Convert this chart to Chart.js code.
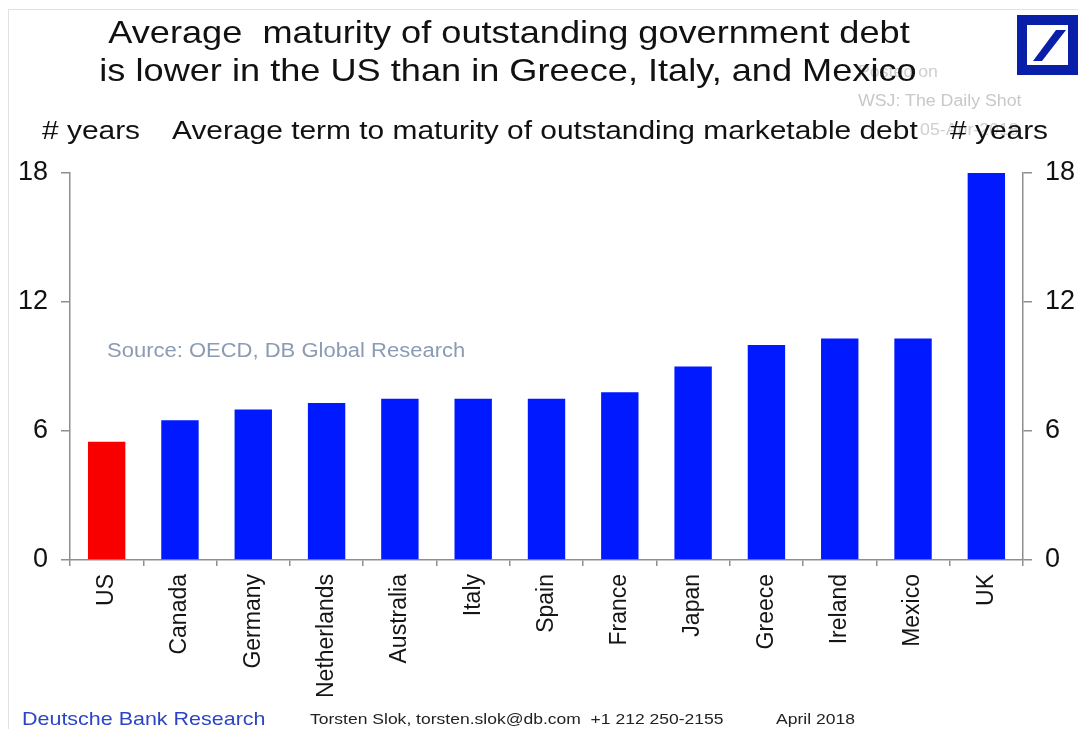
<!DOCTYPE html>
<html>
<head>
<meta charset="utf-8">
<script src="https://cdn.jsdelivr.net/npm/chart.js@4.4.1/dist/chart.umd.min.js"></script>
<style>
  html, body { margin: 0; padding: 0; background: #fff; }
  #wrap { position: relative; width: 1078px; height: 729px; overflow: hidden; font-family: "Liberation Sans", Arial, sans-serif; }
  #c { position: absolute; left: 0; top: 0; }
  .t { position: absolute; white-space: pre; line-height: 1; transform-origin: left top; }
  .tc { position: absolute; white-space: pre; line-height: 1; text-align: center; transform-origin: center top; }
  #frame { position: absolute; left: 8px; top: 9px; width: 1200px; height: 900px; border: 1.5px solid #e2e2e2; }
</style>
</head>
<body>
<div id="wrap">
  <div id="frame"></div>
  <canvas id="c" width="1078" height="729"></canvas>
  <!-- watermark -->
  <div class="t" style="left:858px; top:64px; font-size:16px; color:#cfcfcf; transform:scaleX(1.11)">Posted on</div>
  <div class="t" style="left:858px; top:93px; font-size:16px; color:#c8c8c8; transform:scaleX(1.11)">WSJ: The Daily Shot</div>
  <div class="t" style="left:920px; top:122px; font-size:16px; color:#cfcfcf; transform:scaleX(1.11)">05-Apr-2018</div>
  <!-- title -->
  <div class="tc" style="left:9px; width:1000px; top:16px; font-size:32px; color:#111; transform:scaleX(1.13)">Average  maturity of outstanding government debt</div>
  <div class="tc" style="left:8px; width:1000px; top:54px; font-size:32px; color:#111; transform:scaleX(1.13)">is lower in the US than in Greece, Italy, and Mexico</div>
  <!-- subtitle / axis titles -->
  <div class="t" style="left:42px; top:117px; font-size:26px; color:#111; transform:scaleX(1.15)"># years</div>
  <div class="t" style="left:172px; top:117px; font-size:26px; color:#111; transform:scaleX(1.15)">Average term to maturity of outstanding marketable debt</div>
  <div class="t" style="left:950px; top:117px; font-size:26px; color:#111; transform:scaleX(1.15)"># years</div>
  <!-- source -->
  <div class="t" style="left:107px; top:340px; font-size:20px; color:#8b9bb4; transform:scaleX(1.1)">Source: OECD, DB Global Research</div>
  <!-- footer -->
  <div class="t" style="left:22px; top:709px; font-size:19px; color:#2b45c6; transform:scaleX(1.13)">Deutsche Bank Research</div>
  <div class="t" style="left:310px; top:711px; font-size:15.5px; color:#222; transform:scaleX(1.13)">Torsten Slok, torsten.slok@db.com  +1 212 250-2155</div>
  <div class="t" style="left:776px; top:711px; font-size:15.5px; color:#222; transform:scaleX(1.13)">April 2018</div>
  <!-- logo -->
  <svg style="position:absolute; left:1017px; top:15px;" width="61" height="61" viewBox="0 0 61 61">
    <rect x="5" y="5" width="51" height="50" fill="none" stroke="#0a1fa8" stroke-width="10"/>
    <polygon points="16,46 25,46 49,15 39,15" fill="#0a1fa8"/>
  </svg>
</div>
<script>
// ---- data ----
const categories = ['US', 'Canada', 'Germany', 'Netherlands', 'Australia', 'Italy', 'Spain', 'France', 'Japan', 'Greece', 'Ireland', 'Mexico', 'UK'];
const avgMaturityYears = [5.5, 6.5, 7.0, 7.3, 7.5, 7.5, 7.5, 7.8, 9.0, 10.0, 10.3, 10.3, 18.0];
const yTickValues = [0, 6, 12, 18];
const highlighted = 'US';

const RED = '#f80000';
const BLUE = '#0019ff';
const AXIS = '#8e8e8e';
const FONT = '"Liberation Sans", Arial, sans-serif';

const yAxisCommon = {
  min: 0, max: 18,
  grid: { drawOnChartArea: false, drawTicks: true, tickLength: 9, color: AXIS, lineWidth: 1.5 },
  border: { display: true, color: AXIS, width: 1.5 },
  afterBuildTicks: (s) => { s.ticks = yTickValues.map(v => ({ value: v })); },
  ticks: { font: { family: FONT, size: 27 }, color: '#111', padding: 13 }
};

new Chart(document.getElementById('c'), {
  type: 'bar',
  data: {
    labels: categories,
    datasets: [{
      data: avgMaturityYears,
      backgroundColor: (ctx) => categories[ctx.dataIndex] === highlighted ? RED : BLUE,
      borderWidth: 0,
      categoryPercentage: 1.0,
      barPercentage: 0.51
    }]
  },
  options: {
    responsive: false,
    animation: false,
    devicePixelRatio: 1,
    layout: { padding: { top: 173, left: 0, right: 0, bottom: 0 } },
    plugins: { legend: { display: false }, title: { display: false }, tooltip: { enabled: false } },
    scales: {
      x: {
        grid: { drawOnChartArea: false, drawTicks: true, tickLength: 6, color: AXIS, lineWidth: 1.5, offset: true },
        border: { display: true, color: AXIS, width: 1.5 },
        ticks: { font: { family: FONT, size: 23 }, color: '#151515', minRotation: 90, maxRotation: 90, padding: 8, autoSkip: false },
        afterFit: (s) => { s.height = 169; }
      },
      y: Object.assign({}, yAxisCommon, { position: 'left', afterFit: (s) => { s.width = 70; } }),
      y2: Object.assign({}, yAxisCommon, { position: 'right', afterFit: (s) => { s.width = 55; } })
    }
  }
});
</script>
</body>
</html>
